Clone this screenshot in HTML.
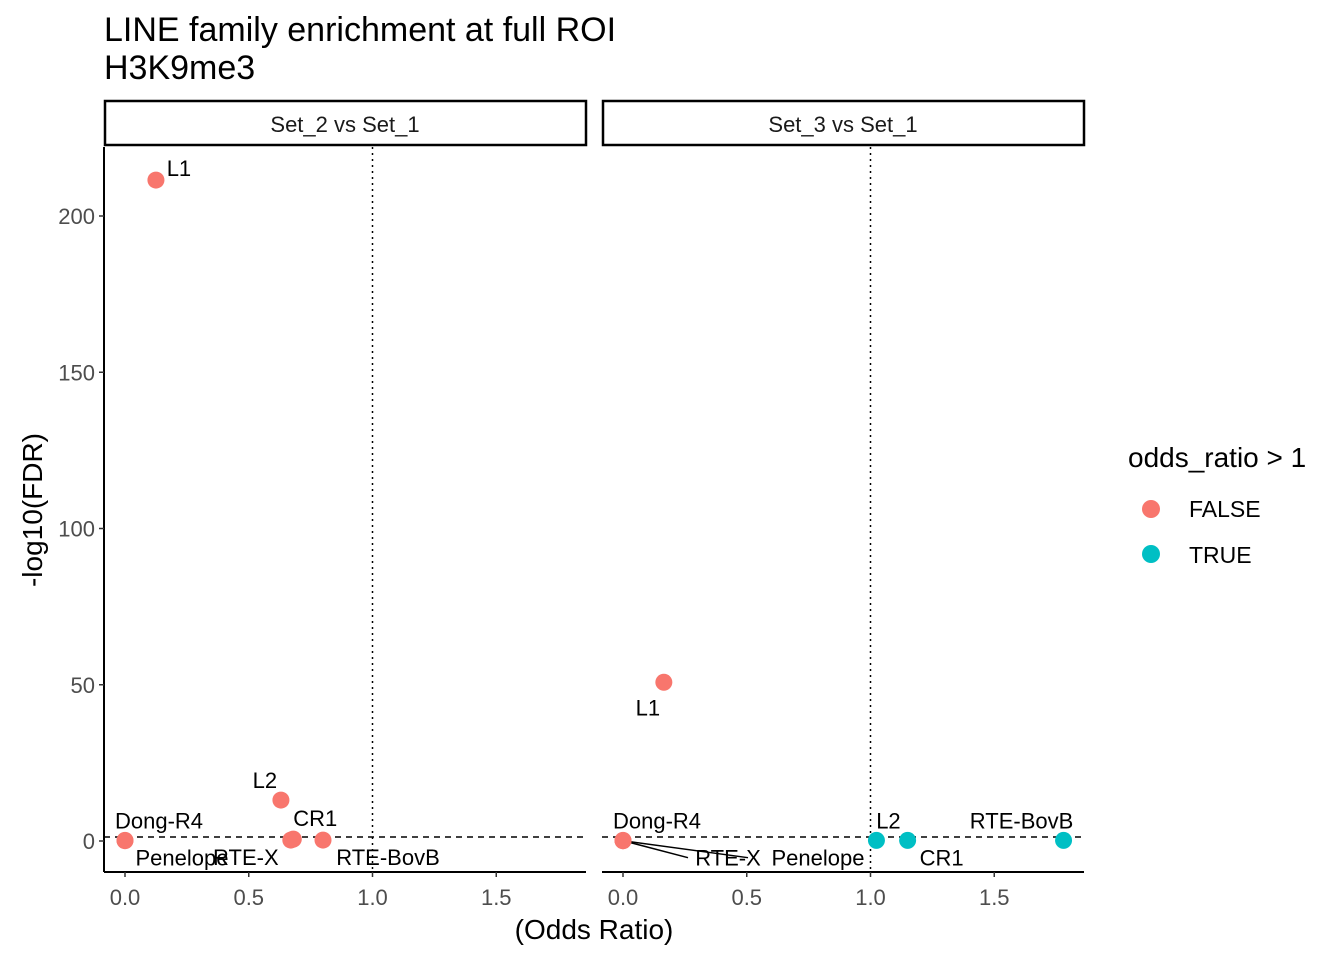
<!DOCTYPE html>
<html><head><meta charset="utf-8"><style>
body{margin:0;background:#fff;font-family:"Liberation Sans",Arial,sans-serif}
svg text{font-family:"Liberation Sans",Arial,sans-serif}
</style></head><body>
<svg id="chart" width="1344" height="960" xmlns="http://www.w3.org/2000/svg">
<text x="104" y="41" font-size="34" fill="#000">LINE family enrichment at full ROI</text>
<text x="104" y="79" font-size="34" fill="#000">H3K9me3</text>
<text transform="translate(42,510) rotate(-90)" font-size="28" text-anchor="middle" fill="#000">-log10(FDR)</text>
<text x="594" y="939" font-size="28" text-anchor="middle" fill="#000">(Odds Ratio)</text>
<g id="panels"></g>
<g>
<text x="1128" y="467" font-size="28" fill="#000">odds_ratio &gt; 1</text>
<circle cx="1151" cy="509" r="9" fill="#F8766D"/>
<text x="1189" y="517" font-size="23" fill="#000">FALSE</text>
<circle cx="1151" cy="554" r="9" fill="#00BFC4"/>
<text x="1189" y="563" font-size="23" fill="#000">TRUE</text>
</g>
</svg>
<script>
const facets = ["Set_2 vs Set_1", "Set_3 vs Set_1"];
const labels = ["L1","L2","CR1","RTE-X","Penelope","Dong-R4","RTE-BovB"];
const oddsSet2 = [0.125, 0.63, 0.68, 0.67, 0.0, 0.0, 0.80];
const fdrSet2 = [211.5, 13.1, 0.6, 0.3, 0.1, 0.2, 0.3];
const oddsSet3 = [0.165, 1.024, 1.15, 0.0, 0.0, 0.0, 1.78];
const fdrSet3 = [50.8, 0.2, 0.2, 0.1, 0.1, 0.2, 0.2];
const xTicks = [0, 0.5, 1.0, 1.5];
const xTickLabels = ["0.0","0.5","1.0","1.5"];
const yTicks = [0, 50, 100, 150, 200];
// label offsets (repel placement, pixels)
const offs2 = [[23,-12],[-16,-20],[22,-21],[-45,17],[57,17],[34,-20],[65,17]];
const offs3 = [[-16,25],[12,-20],[34,17],[105,17],[0,17],[34,-20],[-42,-20]];
const penX3 = [0,0,0,0,195,0,0];

const svgRoot = document.getElementById('panels');
const NS = "http://www.w3.org/2000/svg";
const panelX = [104, 602], panelW = 482, panelTop = 147, panelBottom = 872;
function mk(tag, attrs, parent){const e=document.createElementNS(NS,tag);for(const k in attrs)e.setAttribute(k,attrs[k]);(parent||svgRoot).appendChild(e);return e;}
const yScale = v => 841 - v*3.125;
for (let p=0;p<2;p++){
  const x0 = panelX[p];
  const xs = v => x0 + 21 + v*247.5;
  const g = mk('g',{});
  
  
  const strip = mk('rect',{x:x0+1,y:101,width:panelW-1,height:44,fill:'#fff',stroke:'#000','stroke-width':2.5},g);
  
  
  const st = mk('text',{x:x0+panelW/2,y:132,'font-size':22,'text-anchor':'middle',fill:'#1a1a1a'},g);
  st.textContent = facets[p];
  
  
  mk('line',{x1:x0,y1:panelBottom,x2:x0+panelW,y2:panelBottom,stroke:'#000','stroke-width':2},g);
  if(p===0){
    mk('line',{x1:x0,y1:panelTop,x2:x0,y2:panelBottom,stroke:'#000','stroke-width':2},g);
    yTicks.forEach(t=>{
      mk('line',{x1:x0-5,y1:yScale(t),x2:x0,y2:yScale(t),stroke:'#333','stroke-width':1.5},g);
      const tt=mk('text',{x:x0-9,y:yScale(t)+8,'font-size':22,'text-anchor':'end',fill:'#4d4d4d'},g);
      tt.textContent=t;
      
      
    });
  }
  xTicks.forEach((t,i)=>{
    mk('line',{x1:xs(t),y1:panelBottom,x2:xs(t),y2:panelBottom+5,stroke:'#333','stroke-width':1.5},g);
    const tt=mk('text',{x:xs(t),y:panelBottom+33,'font-size':22,'text-anchor':'middle',fill:'#4d4d4d'},g);
    tt.textContent=xTickLabels[i];
    
    
  });
  mk('line',{x1:xs(1),y1:panelTop,x2:xs(1),y2:panelBottom,stroke:'#000','stroke-width':1.5,'stroke-dasharray':'2,4'},g);
  mk('line',{x1:x0,y1:yScale(1.3),x2:x0+panelW,y2:yScale(1.3),stroke:'#000','stroke-width':1.5,'stroke-dasharray':'6,5'},g);
  const ox = p===0?oddsSet2:oddsSet3, fy = p===0?fdrSet2:fdrSet3, offs = p===0?offs2:offs3;
  if(p===1){
    [3,4].forEach(i=>{
      const lx = i===4 ? xs(ox[i])+penX3[i] : xs(ox[i])+offs[i][0];
      mk('line',{x1:xs(ox[i]),y1:yScale(fy[i]),x2:lx-(i===4?70:40),y2:yScale(fy[i])+17,stroke:'#000','stroke-width':1.5},g);
    });
  }
  labels.forEach((lab,i)=>{
    const c = mk('circle',{cx:xs(ox[i]),cy:yScale(fy[i]),r:8.5,fill:ox[i]>1?'#00BFC4':'#F8766D'},g);
    
    
  });
  labels.forEach((lab,i)=>{
    const lx = (p===1 && i===4) ? xs(ox[i])+penX3[i] : xs(ox[i])+offs[i][0];
    const t = mk('text',{x:lx,y:yScale(fy[i])+offs[i][1]+8,'font-size':22,'text-anchor':'middle',fill:'#000'},g);
    t.textContent = lab;
    
    
  });
}
</script>
</body></html>
